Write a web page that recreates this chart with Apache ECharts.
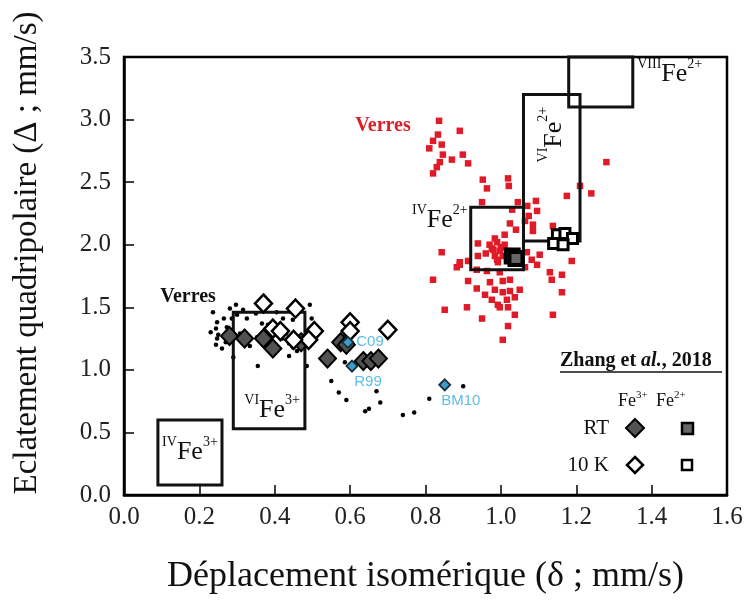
<!DOCTYPE html>
<html>
<head>
<meta charset="utf-8">
<script src="https://cdn.jsdelivr.net/npm/echarts@6/dist/echarts.min.js"></script>
<style>
  html, body { margin: 0; padding: 0; background: #fff; }
  #chart { width: 751px; height: 600px; }
</style>
</head>
<body>
<div id="chart"></div>
<script>
// verres (Fe3+), petits points noirs
var blackDots = [
  [0.236,1.46],[0.247,1.38],[0.244,1.33],[0.247,1.25],[0.244,1.2],[0.26,1.17],[0.265,1.41],
  [0.281,1.49],[0.297,1.52],[0.273,1.34],[0.286,1.41],[0.316,1.48],[0.326,1.41],[0.308,1.29],
  [0.353,1.26],[0.334,1.19],[0.366,1.37],[0.382,1.36],[0.422,1.41],[0.408,1.33],[0.43,1.29],
  [0.438,1.21],[0.448,1.18],[0.438,1.11],[0.459,1.15],[0.475,1.2],[0.493,1.52],[0.498,1.41],
  [0.507,1.32],[0.355,1.03],[0.485,1.03],[0.29,1.1],[0.276,1.26],[0.405,1.46],[0.448,1.40],
  [0.23,1.3],[0.25,1.28],[0.27,1.22],[0.30,1.44],[0.35,1.45],[0.39,1.2],[0.42,1.25],
  [0.55,0.91],[0.57,0.82],[0.59,0.76],[0.67,0.83],[0.68,0.74],[0.64,0.67],[0.65,0.69],
  [0.74,0.64],[0.77,0.66],[0.81,0.77],[0.90,0.87],[0.586,1.06]
];

// verres (Fe2+), carres rouges
var redSquares = [
  [0.836,2.99],[0.891,2.91],[0.833,2.88],[0.82,2.83],[0.81,2.77],[0.843,2.80],[0.846,2.72],
  [0.87,2.68],[0.899,2.72],[0.913,2.65],[0.838,2.66],[0.83,2.62],[0.82,2.57],[0.952,2.52],
  [0.963,2.45],[1.019,2.53],[1.021,2.47],[1.28,2.66],[1.21,2.47],[1.24,2.41],[1.175,2.39],
  [1.093,2.35],[0.95,2.34],[1.045,2.34],[1.03,2.28],[1.07,2.31],[1.096,2.27],[1.074,2.23],
  [1.085,2.16],[1.064,2.19],[1.024,2.17],[1.04,2.12],[1.085,2.11],[1.138,2.15],[0.984,2.05],
  [1.01,2.08],[0.939,2.01],[0.843,1.94],[0.976,1.97],[0.997,1.95],[0.984,1.91],[1.005,1.91],
  [0.992,1.86],[1.069,1.94],[1.082,1.88],[1.103,1.92],[1.096,1.84],[1.064,1.82],[0.939,1.91],
  [0.913,1.87],[0.891,1.86],[0.883,1.82],[0.936,1.80],[0.963,1.79],[0.997,1.78],[1.188,1.87],
  [1.13,1.78],[1.162,1.76],[1.135,1.72],[0.82,1.72],[0.913,1.71],[0.971,1.70],[1.005,1.71],
  [1.024,1.72],[0.984,1.64],[1.005,1.62],[1.024,1.63],[1.05,1.64],[0.936,1.65],[0.958,1.60],
  [1.162,1.62],[0.976,1.56],[0.992,1.52],[1.016,1.56],[1.037,1.58],[0.851,1.48],[0.91,1.50],
  [0.997,1.50],[1.019,1.50],[0.95,1.41],[1.037,1.44],[1.138,1.44],[1.019,1.35],[1.005,1.24],
  [0.891,1.84],[0.97,2.0],[0.99,2.02],[1.0,1.98],[0.98,1.96],[1.01,2.0],[0.96,1.93],
  [0.99,1.88],[1.02,1.95]
];

// Zhang et al., 2018
var rtFe3 = [[0.28,1.27],[0.32,1.25],[0.37,1.25],[0.395,1.17],[0.47,1.22],[0.54,1.09],
  [0.575,1.22],[0.59,1.2],[0.635,1.07],[0.655,1.07],[0.675,1.09]];
var k10Fe3 = [[0.37,1.53],[0.455,1.49],[0.395,1.33],[0.415,1.31],[0.505,1.31],[0.49,1.24],
  [0.45,1.24],[0.6,1.38],[0.6,1.31],[0.70,1.32]];
var rtFe2 = [[1.03,1.91],[1.04,1.89]];
var k10Fe2 = [[1.15,2.08],[1.17,2.09],[1.19,2.05],[1.14,2.01],[1.165,2.0]];

// references nommees
var refNames = ['C09', 'R99', 'BM10'];
var refValues = [[0.594,1.22],[0.605,1.03],[0.851,0.88]];

// domaines des sites : [dmin, dmax, qmin, qmax]
var siteBoxes = [[0.09,0.26,0.08,0.6],[0.29,0.48,0.53,1.46],[0.92,1.06,1.8,2.3],
  [1.06,1.21,2.03,3.2],[1.18,1.35,3.1,3.5]];
var siteCoord = ['IV','VI','IV','VI','VIII'];
var siteCharge = ['3+','3+','2+','2+','2+'];
var siteLabelPos = [[0.175,0.355],[0.393,0.695],[0.838,2.21],[1.135,2.88],[1.448,3.38]];
var siteLabelRot = [0,0,0,90,0];

// etiquettes "Verres"
var glassLabels = ['Verres', 'Verres'];
var glassLabelPos = [[0.687,2.95],[0.17,1.58]];
var glassLabelColor = ['#d81f2a', '#111'];

var xTicks = [0, 1.6, 0.2];
var yTicks = [0, 3.5, 0.5];

var serif = 'Liberation Serif';

var myChart = echarts.init(document.getElementById('chart'));

var siteRich = {
  r: { fontFamily: serif, fontSize: 14, lineHeight: 14, verticalAlign: 'top', fill: '#111' },
  f: { fontFamily: serif, fontSize: 26, lineHeight: 30, verticalAlign: 'bottom', fill: '#111' },
  c: { fontFamily: serif, fontSize: 14, lineHeight: 14, verticalAlign: 'top', fill: '#111' }
};

var option = {
  animation: false,
  grid: { left: 124, right: 24, top: 57, bottom: 100, show: true, borderColor: '#000', borderWidth: 2.5 },
  xAxis: {
    type: 'value', min: xTicks[0], max: xTicks[1], interval: xTicks[2],
    name: 'Déplacement isomérique (δ ; mm/s)', nameLocation: 'middle', nameGap: 64,
    nameTextStyle: { fontFamily: serif, fontSize: 36, color: '#111' },
    axisLine: { lineStyle: { color: '#000', width: 2.5 } },
    axisTick: { inside: true, length: 10, lineStyle: { color: '#000', width: 1.5 } },
    axisLabel: { fontFamily: serif, fontSize: 25, color: '#222', margin: 10,
      formatter: function (v) { return v.toFixed(1); } },
    splitLine: { show: false }
  },
  yAxis: {
    type: 'value', min: yTicks[0], max: yTicks[1], interval: yTicks[2],
    name: 'Eclatement quadripolaire (Δ ; mm/s)', nameLocation: 'middle', nameGap: 80,
    nameTextStyle: { fontFamily: serif, fontSize: 33, color: '#111', padding: [0, 0, 0, 46] },
    axisLine: { lineStyle: { color: '#000', width: 2.5 } },
    axisTick: { inside: true, length: 10, lineStyle: { color: '#000', width: 1.5 } },
    axisLabel: { fontFamily: serif, fontSize: 25, color: '#222', margin: 13,
      formatter: function (v) { return v.toFixed(1); } },
    splitLine: { show: false }
  },
  series: [
    {
      type: 'scatter', data: blackDots, symbol: 'circle', symbolSize: 4.5,
      itemStyle: { color: '#000', opacity: 1 }, z: 2
    },
    {
      type: 'scatter', data: redSquares, symbol: 'rect', symbolSize: 6.5,
      itemStyle: { color: '#e01a26', opacity: 1 }, z: 2
    },
    {
      type: 'custom', z: 3,
      data: siteBoxes,
      encode: { x: [0, 1], y: [2, 3] },
      renderItem: function (params, api) {
        var p1 = api.coord([api.value(0), api.value(3)]);
        var p2 = api.coord([api.value(1), api.value(2)]);
        return {
          type: 'rect',
          shape: { x: p1[0], y: p1[1], width: p2[0] - p1[0], height: p2[1] - p1[1] },
          style: { fill: null, stroke: '#111', lineWidth: 3 }
        };
      }
    },
    {
      type: 'custom', z: 6,
      data: siteLabelPos,
      renderItem: function (params, api) {
        var i = params.dataIndex;
        var p = api.coord([api.value(0), api.value(1)]);
        return {
          type: 'text', x: p[0], y: p[1],
          rotation: siteLabelRot[i] * Math.PI / 180,
          style: {
            text: '{r|' + siteCoord[i] + '}{f|Fe}{c|' + siteCharge[i] + '}',
            rich: siteRich, align: 'center', verticalAlign: 'middle'
          }
        };
      }
    },
    {
      type: 'custom', z: 6,
      data: glassLabelPos,
      renderItem: function (params, api) {
        var i = params.dataIndex;
        var p = api.coord([api.value(0), api.value(1)]);
        return {
          type: 'text', x: p[0], y: p[1],
          style: {
            text: glassLabels[i], fill: glassLabelColor[i], align: 'center', verticalAlign: 'middle',
            fontFamily: serif, fontWeight: 'bold', fontSize: 20
          }
        };
      }
    },
    {
      type: 'scatter', data: rtFe3, symbol: 'diamond', symbolSize: [17, 18],
      itemStyle: { color: '#525252', borderColor: '#000', borderWidth: 2, opacity: 1 }, z: 4
    },
    {
      type: 'scatter', data: k10Fe3, symbol: 'diamond', symbolSize: [17, 18],
      itemStyle: { color: '#fff', borderColor: '#000', borderWidth: 2.5, opacity: 1 }, z: 4
    },
    {
      type: 'scatter', data: rtFe2, symbol: 'rect', symbolSize: 13,
      itemStyle: { color: '#666', borderColor: '#000', borderWidth: 4, opacity: 1 }, z: 5
    },
    {
      type: 'scatter', data: k10Fe2, symbol: 'rect', symbolSize: 10,
      itemStyle: { color: '#fff', borderColor: '#000', borderWidth: 3, opacity: 1 }, z: 5
    },
    {
      type: 'scatter', symbol: 'diamond', symbolSize: 11, z: 7,
      itemStyle: { color: '#3f9cc8', borderColor: '#14303c', borderWidth: 1.8, opacity: 1 },
      data: refValues.map(function (v, i) {
        return {
          value: v.concat([refNames[i]]),
          label: i === 0 ? { position: 'right', distance: 2 } : { position: 'bottom', distance: 2, offset: [16, 0] }
        };
      }),
      label: {
        show: true, fontFamily: 'Liberation Sans', fontSize: 15, color: '#5ebde6',
        formatter: function (p) { return p.value[2]; }
      }
    }
  ],
  graphic: [
    { type: 'text', left: 560, top: 351, style: {
      text: '{b|Zhang et }{i|al.}{b|, 2018}',
      rich: {
        b: { fontFamily: serif, fontWeight: 'bold', fontSize: 20, fill: '#111' },
        i: { fontFamily: serif, fontWeight: 'bold', fontStyle: 'italic', fontSize: 20, fill: '#111' }
      } } },
    { type: 'line', shape: { x1: 560, y1: 372, x2: 722, y2: 372 }, style: { stroke: '#111', lineWidth: 1.5 } },
    { type: 'text', x: 618, y: 400, style: { text: '{f|Fe}{c|3+}', verticalAlign: 'middle',
      rich: { f: { fontFamily: serif, fontSize: 18, lineHeight: 20, verticalAlign: 'bottom', fill: '#111' },
              c: { fontFamily: serif, fontSize: 11, lineHeight: 12, verticalAlign: 'top', fill: '#111' } } } },
    { type: 'text', x: 656, y: 400, style: { text: '{f|Fe}{c|2+}', verticalAlign: 'middle',
      rich: { f: { fontFamily: serif, fontSize: 18, lineHeight: 20, verticalAlign: 'bottom', fill: '#111' },
              c: { fontFamily: serif, fontSize: 11, lineHeight: 12, verticalAlign: 'top', fill: '#111' } } } },
    { type: 'text', x: 609, y: 428, style: { text: 'RT', align: 'right', verticalAlign: 'middle',
      fontFamily: serif, fontSize: 21, fill: '#111' } },
    { type: 'text', x: 609, y: 465, style: { text: '10 K', align: 'right', verticalAlign: 'middle',
      fontFamily: serif, fontSize: 21, fill: '#111' } },
    { type: 'polygon', shape: { points: [[635, 419], [644, 428], [635, 437], [626, 428]] },
      style: { fill: '#525252', stroke: '#000', lineWidth: 2 } },
    { type: 'rect', shape: { x: 682, y: 423, width: 11, height: 11 },
      style: { fill: '#666', stroke: '#000', lineWidth: 2.5 } },
    { type: 'polygon', shape: { points: [[635, 457], [643, 465], [635, 473], [627, 465]] },
      style: { fill: '#fff', stroke: '#000', lineWidth: 2.5 } },
    { type: 'rect', shape: { x: 682, y: 460, width: 10, height: 10 },
      style: { fill: '#fff', stroke: '#000', lineWidth: 2.5 } }
  ]
};

myChart.setOption(option);
</script>
</body>
</html>
